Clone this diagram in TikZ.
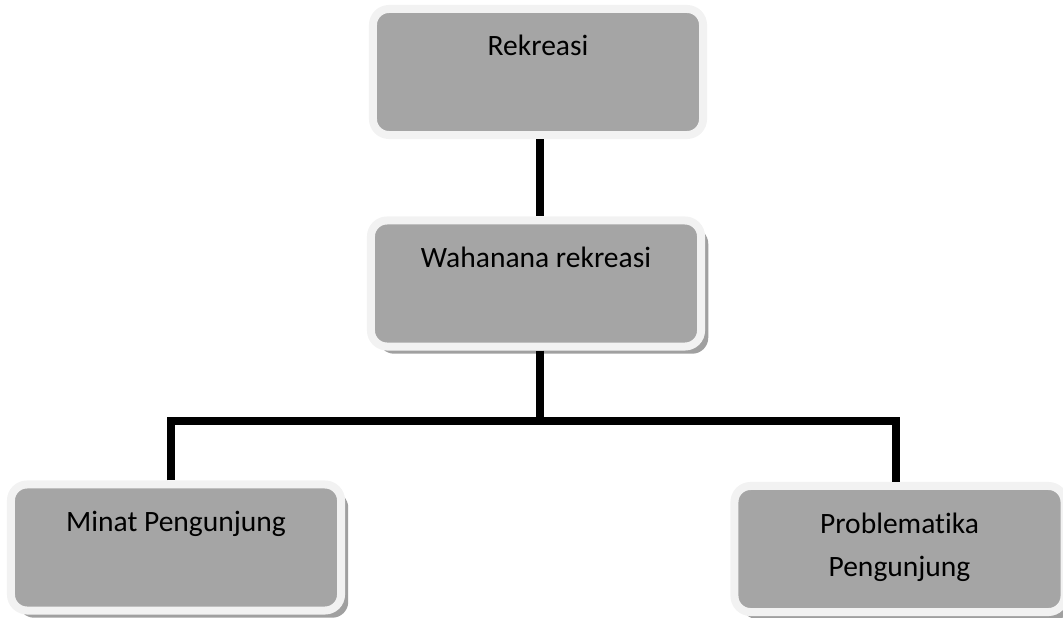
\documentclass[tikz,border=0pt]{standalone}
\usepackage{fontspec}
\setmainfont{Carlito}[Ligatures=NoCommon]
\usetikzlibrary{shadows}
\definecolor{boxgray}{HTML}{A5A5A5}
\definecolor{boxrim}{HTML}{F2F2F2}
\definecolor{shadowgray}{HTML}{A0A0A0}

\begin{document}
\begin{tikzpicture}[x=0.025cm,y=-0.025cm,
        topic/.style={rectangle,rounded corners=0.4cm,fill=boxgray,draw=boxrim,line width=0.2cm,
            minimum width=8.25cm,minimum height=3.15cm},
        shadowed/.style={drop shadow={shadow xshift=0.18cm,shadow yshift=-0.18cm,fill=shadowgray,opacity=1}},
        caption/.style={anchor=base,align=center,inner sep=0pt,font=\fontsize{21}{31}\selectfont},
        link/.style={line width=0.2cm,black}]
        \useasboundingbox (0,0) rectangle (1063,617);
        % Boxes
            \node[topic] (rek) at (538,72) {};
            \node[topic,shadowed] (wah) at (536,283.5) {};
            \node[topic,shadowed] (minat) at (176,547.5) {};
            \node[topic,shadowed] (prob) at (899.5,549) {};
        % Texts
            \node[caption] at ([yshift=-1.27cm]rek.north) {Rekreasi};
            \node[caption] at ([yshift=-1.27cm]wah.north) {Wahanana rekreasi};
            \node[caption] at ([yshift=-1.27cm]minat.north) {Minat Pengunjung};
            \node[caption] at ([yshift=-2.37cm]prob.north) {Problematika\\Pengunjung};
        % Connectors
            \coordinate (fork) at (540,421);
            \draw[link] (rek.south -| fork) -- (wah.north -| fork);
            \draw[link] (wah.south -| fork) -- (fork);
            \draw[link] ([xshift=-0.12cm]minat.north) |- (fork) -| ([xshift=-0.09cm]prob.north);
    \end{tikzpicture}
\end{document}
